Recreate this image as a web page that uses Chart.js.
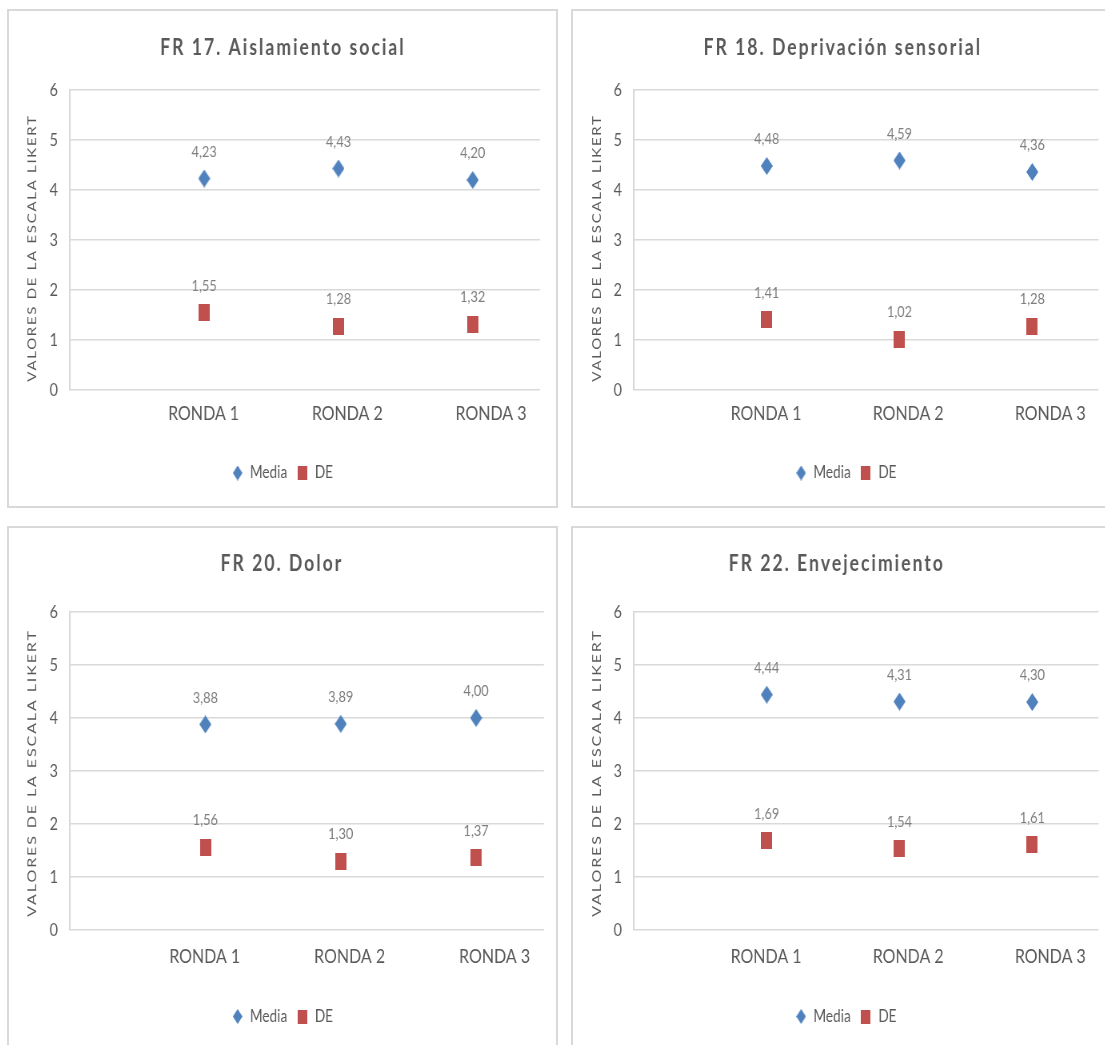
<!DOCTYPE html>
<html lang="es">
<head>
<meta charset="utf-8">
<title>Factores de riesgo: Media y DE por ronda</title>
<script src="https://cdn.jsdelivr.net/npm/chart.js@4.4.0/dist/chart.umd.min.js"></script>
<style>
  html, body { margin: 0; padding: 0; background: #ffffff; overflow: hidden; }
  body { width: 1105px; height: 1045px; position: relative; }
  .panel { position: absolute; box-sizing: border-box; border: 2px solid #d9d9d9; background: #ffffff; overflow: hidden; }
  .panel canvas { position: absolute; left: 0; top: 0; transform-origin: 0 0; }
</style>
</head>
<body>
<script>
// ---- data ----
const rounds = ['RONDA 1', 'RONDA 2', 'RONDA 3'];
const seriesNames = ['Media', 'DE'];
const yTicks = [0, 1, 2, 3, 4, 5, 6];
const axisTitle = 'VALORES DE LA ESCALA LIKERT';

const titleFR17 = 'FR 17. Aislamiento social';
const mediaFR17 = [4.23, 4.43, 4.20];
const deFR17 = [1.55, 1.28, 1.32];

const titleFR18 = 'FR 18. Deprivación sensorial';
const mediaFR18 = [4.48, 4.59, 4.36];
const deFR18 = [1.41, 1.02, 1.28];

const titleFR20 = 'FR 20. Dolor';
const mediaFR20 = [3.88, 3.89, 4.00];
const deFR20 = [1.56, 1.30, 1.37];

const titleFR22 = 'FR 22. Envejecimiento';
const mediaFR22 = [4.44, 4.31, 4.30];
const deFR22 = [1.69, 1.54, 1.61];

// ---- look ----
const SQUEEZE = 0.8;            // horizontal compression applied to every drawing
const FONT = 'Lato, "Open Sans", sans-serif';
const TEXT = '#595959';
const LABEL = '#7f7f7f';
const GRID = '#d9d9d9';
const BLUE = '#4f81bd';
const RED = '#c0504d';
const POINT_RANGE = [0, 3.5];   // x range holding the markers
const LABEL_RANGE = [0.07, 3.34]; // x range of the category-name axis

function marker(shape, w, h, color) {
  const c = document.createElement('canvas');
  c.width = w; c.height = h;
  const g = c.getContext('2d');
  g.fillStyle = color;
  if (shape === 'diamond') {
    g.beginPath();
    g.moveTo(w / 2, 0); g.lineTo(w, h / 2); g.lineTo(w / 2, h); g.lineTo(0, h / 2);
    g.closePath(); g.fill();
  } else {
    g.fillRect(0, 0, w, h);
  }
  return c;
}
const diamondMark = marker('diamond', 15, 18, BLUE);
const squareMark = marker('square', 14, 17, RED);
const legendMarks = [marker('diamond', 12, 15, BLUE), marker('square', 12, 14, RED)];

// panel frames (outer box) and the plot rectangle inside each, in page pixels
const layouts = [
  { box: [7, 9, 551, 499],   plot: [61, 531, 79, 379], titleX: 274, titleY: 37, axisX: 23, axisY: 237, axisFont: 15, axisGap: 1.7, tickPad: 4, legendPad: 14.5 },
  { box: [571, 9, 550, 499], plot: [61, 526, 79, 379], titleX: 270, titleY: 37, axisX: 24, axisY: 237, axisFont: 15, axisGap: 1.7, tickPad: 4, legendPad: 14.5 },
  { box: [7, 526, 551, 530], plot: [61, 535, 84, 402], titleX: 273, titleY: 36, axisX: 23, axisY: 245, axisFont: 16, axisGap: 1.9, tickPad: 6.5, legendPad: 19 },
  { box: [571, 526, 550, 530], plot: [61, 526, 84, 402], titleX: 264, titleY: 36, axisX: 24, axisY: 245, axisFont: 16, axisGap: 1.9, tickPad: 6.5, legendPad: 19 }
];
const charts = [
  { title: titleFR17, media: mediaFR17, de: deFR17 },
  { title: titleFR18, media: mediaFR18, de: deFR18 },
  { title: titleFR20, media: mediaFR20, de: deFR20 },
  { title: titleFR22, media: mediaFR22, de: deFR22 }
];

const LEGEND_FONT = 17, LEGEND_PAD = 12, X_FONT = 20, Y_FONT = 18;

// titles, rotated axis caption and value labels
const panelText = {
  id: 'panelText',
  afterDatasetsDraw(chart, args, o) {
    const ctx = chart.ctx;
    ctx.save();
    ctx.fillStyle = LABEL;
    ctx.font = `16px ${FONT}`;
    ctx.textAlign = 'center';
    ctx.textBaseline = 'middle';
    chart.data.datasets.forEach((ds, i) => {
      chart.getDatasetMeta(i).data.forEach((pt, j) => {
        const v = ds.data[j].y;
        ctx.fillText(v.toFixed(2).replace('.', ','), pt.x, pt.y - 27);
      });
    });
    ctx.restore();
  },
  afterDraw(chart, args, o) {
    const ctx = chart.ctx;
    ctx.save();
    ctx.fillStyle = TEXT;
    ctx.textAlign = 'center';
    ctx.textBaseline = 'middle';
    ctx.font = `bold 22px ${FONT}`;
    ctx.letterSpacing = '2.5px';
    ctx.fillText(o.title, o.titleX, o.titleY);
    ctx.font = `${o.axisFont}px ${FONT}`;
    ctx.letterSpacing = o.axisGap + 'px';
    ctx.translate(o.axisX, o.axisY);
    ctx.rotate(-Math.PI / 2);
    ctx.fillText(axisTitle, 0, 0);
    ctx.restore();
  }
};

function build(i) {
  const L = layouts[i], C = charts[i];
  const [bx, by, bw, bh] = L.box;
  const innerW = bw - 4, innerH = bh - 4;
  const W = Math.round(innerW / SQUEEZE);
  const [pl, pr, pt, pb] = L.plot;
  const leftPx = pl / SQUEEZE, rightPx = pr / SQUEEZE;
  const side = W - rightPx;
  const legendH = LEGEND_FONT + LEGEND_PAD + 10;
  const xAxisH = innerH - pb - L.legendPad - legendH;

  const div = document.createElement('div');
  div.className = 'panel';
  Object.assign(div.style, { left: bx + 'px', top: by + 'px', width: bw + 'px', height: bh + 'px' });
  const cv = document.createElement('canvas');
  cv.width = W; cv.height = innerH;
  cv.style.transform = `scaleX(${innerW / W})`;
  div.appendChild(cv);
  document.body.appendChild(div);

  const toPoints = arr => arr.map((v, k) => ({ x: k + 1, y: v }));

  new Chart(cv, {
    type: 'scatter',
    data: {
      datasets: [
        { label: seriesNames[0], data: toPoints(C.media), pointStyle: diamondMark, backgroundColor: BLUE, borderColor: BLUE },
        { label: seriesNames[1], data: toPoints(C.de), pointStyle: squareMark, backgroundColor: RED, borderColor: RED }
      ]
    },
    options: {
      responsive: false,
      animation: false,
      devicePixelRatio: 1,
      layout: { padding: { top: pt, left: side, right: side, bottom: L.legendPad } },
      plugins: {
        title: { display: false },
        tooltip: { enabled: false },
        legend: {
          display: true,
          position: 'bottom',
          labels: {
            usePointStyle: true,
            boxWidth: 14,
            padding: LEGEND_PAD,
            color: TEXT,
            font: { family: FONT, size: LEGEND_FONT },
            generateLabels(chart) {
              const items = Chart.defaults.plugins.legend.labels.generateLabels(chart);
              items.forEach((it, k) => { it.pointStyle = legendMarks[k]; });
              return items;
            }
          }
        },
        panelText: {
          title: C.title,
          titleX: L.titleX / SQUEEZE, titleY: L.titleY,
          axisX: L.axisX / SQUEEZE, axisY: L.axisY,
          axisFont: L.axisFont, axisGap: L.axisGap
        }
      },
      scales: {
        x: {
          type: 'linear',
          display: false,
          min: POINT_RANGE[0], max: POINT_RANGE[1]
        },
        rounds: {
          type: 'linear',
          axis: 'x',
          position: 'bottom',
          min: LABEL_RANGE[0], max: LABEL_RANGE[1],
          grid: { display: false },
          border: { display: false },
          ticks: {
            color: TEXT,
            padding: L.tickPad,
            font: { family: FONT, size: X_FONT },
            callback: v => rounds[v - 1]
          },
          afterBuildTicks: s => { s.ticks = rounds.map((r, k) => ({ value: k + 1 })); },
          afterFit: s => { s.height = xAxisH; }
        },
        y: {
          type: 'linear',
          min: yTicks[0], max: yTicks[yTicks.length - 1],
          grid: { color: GRID, lineWidth: 1.5, drawTicks: false },
          border: { display: true, color: GRID, width: 2 },
          ticks: {
            color: TEXT,
            padding: 15,
            font: { family: FONT, size: Y_FONT }
          },
          afterBuildTicks: s => { s.ticks = yTicks.map(v => ({ value: v })); },
          afterFit: s => { s.width = leftPx - side; }
        }
      }
    },
    plugins: [panelText]
  });
}

Promise.all([
  document.fonts.load(`16px Lato`),
  document.fonts.load(`bold 22px Lato`)
]).catch(() => {}).then(() => { for (let i = 0; i < 4; i++) build(i); });
</script>
</body>
</html>
